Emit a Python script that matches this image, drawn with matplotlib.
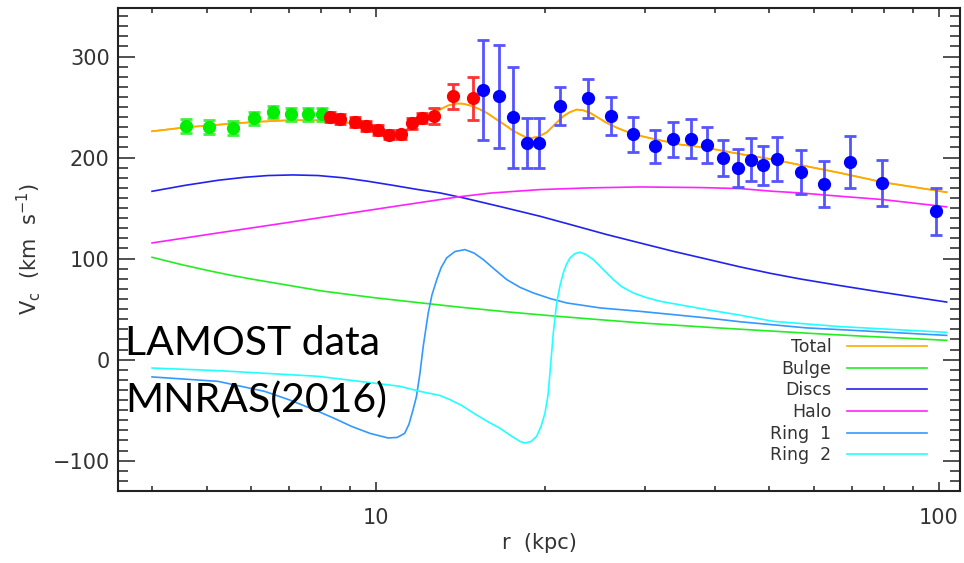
import matplotlib
matplotlib.use("Agg")
import matplotlib.pyplot as plt
from matplotlib.ticker import MultipleLocator, FixedLocator, FixedFormatter, NullFormatter, LogLocator

# data points (r in kpc, Vc in km/s)
r_green = [4.59, 5.05, 5.56, 6.07, 6.55, 7.06, 7.57, 8.01]
v_green = [231, 230, 229, 239, 245, 243, 243, 243]
e_green = [7, 7, 7, 6.5, 6, 6.5, 6.5, 6.5]

r_red = [8.28, 8.63, 9.19, 9.60, 10.07, 10.56, 11.08, 11.57, 12.05, 12.68, 13.69, 14.89]
v_red = [240, 238, 235, 231, 227, 222.5, 223, 233.7, 239, 241, 260.7, 258.7]
e_red = [5, 5, 5, 5, 5, 4.5, 4.5, 5, 5, 8, 12.5, 21.5]

r_blue = [15.51, 16.56, 17.53, 18.53, 19.45, 21.23, 23.77, 26.18, 28.66, 31.3, 33.7, 36.2,
          38.7, 41.3, 43.9, 46.4, 48.6, 51.5, 56.9, 62.6, 69.5, 79.2, 98.8]
v_blue = [267, 260.7, 240, 214.5, 214.5, 250.8, 258.7, 241, 223, 211, 218, 218.8,
          212.5, 199.3, 189.4, 198, 192.4, 198.7, 185.5, 173.6, 195.7, 175, 146.8]
e_blue = [49.5, 51, 50, 24.5, 24.5, 19, 19.5, 18.5, 17.5, 16.5, 17.5, 19,
          17.5, 18, 19, 21, 19.5, 22, 21.5, 23, 26, 22.5, 23.5]

# model curves
r_total = [4.0, 4.61, 5.58, 6.22, 6.99, 8.01, 8.99, 9.60, 10.03, 10.42, 10.88, 11.26, 11.65,
           11.97, 12.30, 12.64, 12.99, 13.42, 13.91, 14.27, 14.69, 15.18, 15.73, 16.34, 17.07,
           17.52, 18.03, 18.48, 18.91, 19.41, 20.11, 20.80, 21.51, 22.11, 22.73, 23.32, 24.0,
           24.80, 25.69, 26.91, 28.27, 29.81, 31.52, 34.67, 38.68, 44.32, 50.79, 58.03, 66.71,
           79.63, 103.2]
v_total = [226, 230, 233.7, 235.5, 236.9, 236.9, 234.3, 231.5, 229.4, 226, 225, 226.5, 230,
           234.5, 239.3, 243.5, 247.5, 251.5, 253.5, 253.3, 251.5, 248.5, 244.2, 238, 231,
           226.5, 222.8, 220, 219.5, 220.5, 225, 233, 240.9, 245, 247.5, 246.8, 244.2,
           239.5, 234.3, 229, 224.4, 220.8, 217.8, 212.9, 209.6, 203.5, 198, 191.5, 184.8,
           175.5, 165.7]

r_bulge = [4.0, 4.5, 5.0, 5.5, 6.0, 7.0, 8.0, 9.0, 10.0, 12.0, 14.0, 17.0, 20.0, 24.0, 30.0,
           40.0, 50.0, 60.0, 70.0, 80.0, 90.0, 103.2]
v_bulge = [101.3, 94.2, 88.5, 83.7, 79.8, 73.5, 68.0, 64.3, 61.1, 56.2, 52.1, 47.4, 43.9, 40.3,
           36.1, 31.6, 28.4, 25.8, 23.8, 22.2, 20.8, 19.1]

r_discs = [4.0, 4.58, 5.24, 5.85, 6.43, 7.12, 7.89, 8.74, 9.68, 10.72, 11.88, 12.99, 14.29,
           16.61, 19.56, 22.38, 25.69, 29.43, 33.74, 38.68, 44.32, 50.1, 56.63, 66.71, 78.6,
           92.5, 103.2]
v_discs = [166.6, 172.5, 177.5, 180.5, 182.2, 182.8, 182.2, 180, 176.5, 172.5, 168.3, 165,
           160.1, 151.5, 141.9, 133, 123.8, 115.5, 107.2, 99.5, 91.8, 85.5, 79.9, 73.3, 67,
           61, 57]

r_halo = [4.0, 5.24, 6.99, 8.99, 11.03, 14.0, 16.0, 19.56, 24.0, 29.43, 37.63, 44.32, 50.7,
          56.63, 66.71, 79.5, 103.2]
v_halo = [115.5, 125.4, 135.8, 145, 152.5, 161.1, 164.9, 168.3, 170, 170.9, 170.3, 169.3,
          166.6, 165, 161.7, 158.4, 151.2]

r_ring1 = [4.0, 5.24, 6.34, 7.03, 7.89, 8.46, 9.04, 9.76, 10.50, 10.90, 11.24, 11.44, 11.63,
           11.80, 11.97, 12.13, 12.38, 12.57, 12.82, 13.05, 13.35, 13.81, 14.39, 14.93, 15.51,
           16.27, 17.07, 18.03, 19.03, 20.37, 21.82, 25.0, 29.43, 38.68, 44.32, 58.21, 66.71,
           103.2]
v_ring1 = [-17.1, -21.5, -31.4, -40, -51.2, -58.5, -66, -73, -77.5, -77, -73, -64, -50,
           -36.3, -13.2, 13.2, 46.2, 64, 79.2, 91, 100.7, 107, 108.9, 105.5, 99,
           89, 79.2, 71.5, 66, 60.5, 56.1, 51.2, 47.8, 41.3, 37.5, 31.4, 29.7,
           24]

r_ring2 = [4.0, 5.24, 7.89, 11.03, 11.97, 12.99, 13.53, 14.21, 14.89, 15.75, 16.61, 17.44,
           18.03, 18.39, 18.85, 19.29, 19.64, 19.96, 20.21, 20.37, 20.65, 20.94, 21.22, 21.51,
           21.80, 22.11, 22.57, 23.04, 23.60, 24.32, 25.30, 26.40, 27.35, 28.64, 30.18, 31.94,
           38.68, 44.32, 50.79, 66.71, 103.2]
v_ring2 = [-8.3, -10.9, -16.5, -26.4, -31.4, -35.5, -39.6, -45.5, -52.8, -61, -68, -76,
           -81, -82.5, -81, -75.9, -66, -52.8, -35, -13.2, 26.4, 56.1, 73, 85.8,
           94.5, 100.7, 105, 106.3, 104, 99, 89.5, 79.2, 72, 66, 61.5, 57.8,
           49.5, 44, 37.9, 32.7, 27]

legend_labels = ["Total", "Bulge", "Discs", "Halo", "Ring  1", "Ring  2"]
line_colors = ["#ffaa00", "#22ee22", "#2222ee", "#ff22ff", "#3399ff", "#22ffff"]

fig = plt.figure(figsize=(9.64, 5.63), dpi=100)
ax = fig.add_axes([118 / 964, 1 - 491 / 563, 842 / 964, 483 / 563])
ax.set_xscale("log")

curves = [(r_total, v_total), (r_bulge, v_bulge), (r_discs, v_discs),
          (r_halo, v_halo), (r_ring1, v_ring1), (r_ring2, v_ring2)]
handles = []
for (rr, vv), c, lab in zip(curves, line_colors, legend_labels):
    h, = ax.plot(rr, vv, color=c, lw=1.2, label=lab, zorder=2,
                 solid_joinstyle="round")
    handles.append(h)

ebkw = dict(fmt="o", ms=8.5, capsize=4, elinewidth=2, capthick=2, zorder=4)
ax.errorbar(r_green, v_green, yerr=e_green, color="#00ee00", ecolor="#44ee44", **ebkw)
ax.errorbar(r_red, v_red, yerr=e_red, color="#ff0000", ecolor="#ff3333", **ebkw)
ax.errorbar(r_blue, v_blue, yerr=e_blue, color="#0000ff", ecolor="#5555ff", **ebkw)
# total curve over the error bars
ax.plot(r_total, v_total, color=line_colors[0], lw=1.2, zorder=3.5, solid_joinstyle="round")

ax.set_xlim(3.48, 109)
ax.set_ylim(-130, 348)

ax.xaxis.set_major_locator(FixedLocator([10, 100]))
ax.xaxis.set_major_formatter(FixedFormatter(["10", "100"]))
ax.xaxis.set_minor_locator(LogLocator(base=10, subs=range(2, 10)))
ax.xaxis.set_minor_formatter(NullFormatter())
ax.yaxis.set_major_locator(MultipleLocator(100))
ax.yaxis.set_minor_locator(MultipleLocator(10))

tc = "#333333"
ax.tick_params(axis="both", which="both", direction="in", top=True, right=True,
               colors="#222222", labelcolor=tc, labelsize=15, width=1.1)
ax.tick_params(axis="y", which="major", length=12, pad=6)
ax.tick_params(axis="y", which="minor", length=7)
ax.tick_params(axis="x", which="major", length=6.5, pad=12)
ax.tick_params(axis="x", which="minor", length=3.5)
for s in ax.spines.values():
    s.set_linewidth(1.5)
    s.set_color("#222222")

ax.set_xlabel("r  (kpc)", fontsize=15, color=tc, labelpad=4)
ax.set_ylabel(r"V$_{\rm c}$  (km  s$^{-1}$)", fontsize=15, color=tc, labelpad=7)

leg = ax.legend(handles=handles, loc="lower right", bbox_to_anchor=(0.9605, 0.055),
                frameon=False, markerfirst=False, fontsize=12.5, handlelength=4.6,
                handletextpad=0.9, labelspacing=0.21, borderpad=0, borderaxespad=0)
for t in leg.get_texts():
    t.set_color(tc)

fig.text(125 / 964, 1 - 355 / 563, "LAMOST data", family="Lato", fontsize=29.5,
         va="baseline", ha="left")
fig.text(125 / 964, 1 - 411.7 / 563, "MNRAS(2016)", family="Lato", fontsize=29.5,
         va="baseline", ha="left")

fig.savefig("out.png", dpi=100)
